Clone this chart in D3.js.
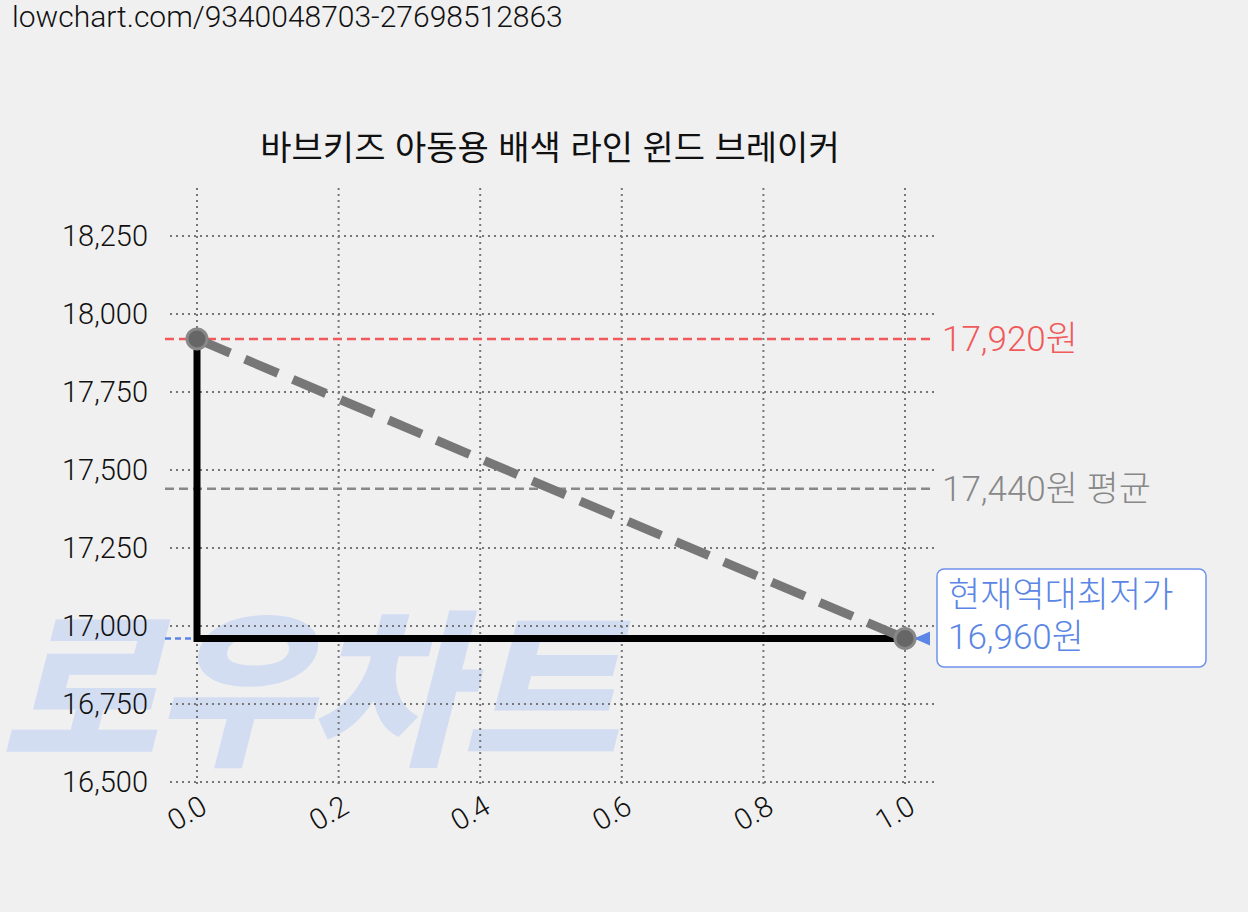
<!DOCTYPE html>
<html lang="ko">
<head>
<meta charset="utf-8">
<script src="https://d3js.org/d3.v7.min.js"></script>
<style>
body { margin: 0; background: #f0f0f0; }
text { font-family: Roboto, "Noto Sans CJK KR", sans-serif; }
</style>
</head>
<body>
<script>
// data
var xTicks = [0, 0.2, 0.4, 0.6, 0.8, 1.0];
var yTicks = [16500, 16750, 17000, 17250, 17500, 17750, 18000, 18250];
var pricePoints = [{x: 0, y: 17920}, {x: 1, y: 16960}];
var maxPrice = 17920, avgPrice = 17440, minPrice = 16960;
var title = "바브키즈 아동용 배색 라인 윈드 브레이커";
var url = "lowchart.com/9340048703-27698512863";

var w = 1248, h = 912;
var svg = d3.select("body").append("svg").attr("width", w).attr("height", h);

var x = d3.scaleLinear().domain([0, 1]).range([197, 905]);
var y = d3.scaleLinear().domain([16500, 18250]).range([782, 236]);
var gLeft = 170, gRight = 935, gTop = 188, gBottom = 786;

// watermark
svg.append("text").attr("x", 0).attr("y", 752)
    .attr("font-size", 168).attr("font-weight", 900).attr("font-style", "italic")
    .attr("fill", "#d3ddf2").attr("letter-spacing", -4)
    .attr("textLength", 615).attr("lengthAdjust", "spacingAndGlyphs")
    .style("font-family", "'Noto Sans CJK KR'")
    .text("로우차트");

svg.append("text").attr("x", 12).attr("y", 27).attr("font-size", 30)
    .attr("font-weight", 300).attr("fill", "#111").text(url);
svg.append("text").attr("x", 550).attr("y", 160).attr("font-size", 34)
    .attr("text-anchor", "middle").attr("fill", "#111")
    .style("font-family", "'Noto Sans CJK KR'").text(title);

// grid
svg.selectAll(".hg").data(yTicks).enter().append("line")
    .attr("x1", gLeft).attr("x2", gRight).attr("y1", d => y(d)).attr("y2", d => y(d))
    .attr("stroke", "#777").attr("stroke-width", 2).attr("stroke-dasharray", "2,4");
svg.selectAll(".vg").data(xTicks).enter().append("line")
    .attr("y1", gTop).attr("y2", gBottom).attr("x1", d => x(d)).attr("x2", d => x(d))
    .attr("stroke", "#777").attr("stroke-width", 2).attr("stroke-dasharray", "2,4");

// tick labels
svg.selectAll(".yl").data(yTicks).enter().append("text")
    .attr("x", 148).attr("y", d => y(d) + 10).attr("text-anchor", "end")
    .attr("font-size", 29).attr("font-weight", 300).attr("fill", "#111")
    .text(d => d3.format(",")(d));
svg.selectAll(".xl").data(xTicks).enter().append("text")
    .attr("transform", d => "translate(" + (x(d) + 12) + ",812) rotate(-30)")
    .attr("text-anchor", "end").attr("font-size", 29).attr("font-weight", 300).attr("fill", "#111")
    .text(d => d3.format(".1f")(d));

// reference lines
function hline(v, color, x2, dash) {
    svg.append("line").attr("x1", 165).attr("x2", x2).attr("y1", y(v)).attr("y2", y(v))
        .attr("stroke", color).attr("stroke-width", 2.5).attr("stroke-dasharray", dash);
}
hline(maxPrice, "#f05a5a", 935, "9,5");
hline(avgPrice, "#888", 935, "9,5");
hline(minPrice, "#5b86e5", 920, "6,4");
svg.append("path")
    .attr("d", "M914," + y(minPrice) + " l16,-7 l0,14 z").attr("fill", "#5b86e5");

svg.append("text").attr("x", 942).attr("y", y(maxPrice) + 12).attr("font-size", 35)
    .attr("font-weight", 300).attr("fill", "#f05a5a").text(d3.format(",")(maxPrice) + "원");
svg.append("text").attr("x", 942).attr("y", y(avgPrice) + 12).attr("font-size", 35)
    .attr("font-weight", 300).attr("fill", "#888").text(d3.format(",")(avgPrice) + "원 평균");

svg.append("rect").attr("x", 937).attr("y", 569).attr("width", 269).attr("height", 98)
    .attr("rx", 7).attr("fill", "#fff").attr("stroke", "#6e93ea").attr("stroke-width", 1.5);
svg.append("text").attr("x", 948).attr("y", 607).attr("font-size", 35)
    .attr("font-weight", 300).attr("fill", "#5b86e5").text("현재역대최저가");
svg.append("text").attr("x", 948).attr("y", 649).attr("font-size", 35)
    .attr("font-weight", 300).attr("fill", "#5b86e5").text(d3.format(",")(minPrice) + "원");

// step line
var a = pricePoints[0], b = pricePoints[1];
svg.append("path")
    .attr("d", d3.line()([[x(a.x), y(a.y)], [x(a.x), y(b.y)], [x(b.x), y(b.y)]]))
    .attr("fill", "none").attr("stroke", "#000").attr("stroke-width", 7);

// dashed trend
svg.append("path")
    .attr("d", d3.line().x(d => x(d.x)).y(d => y(d.y))(pricePoints))
    .attr("fill", "none").attr("stroke", "#777").attr("stroke-width", 9)
    .attr("stroke-dasharray", "36,16");

svg.selectAll(".pt").data(pricePoints).enter().append("circle")
    .attr("cx", d => x(d.x)).attr("cy", d => y(d.y)).attr("r", 10)
    .attr("fill", "#666").attr("stroke", "#888").attr("stroke-width", 3);
</script>
</body>
</html>
